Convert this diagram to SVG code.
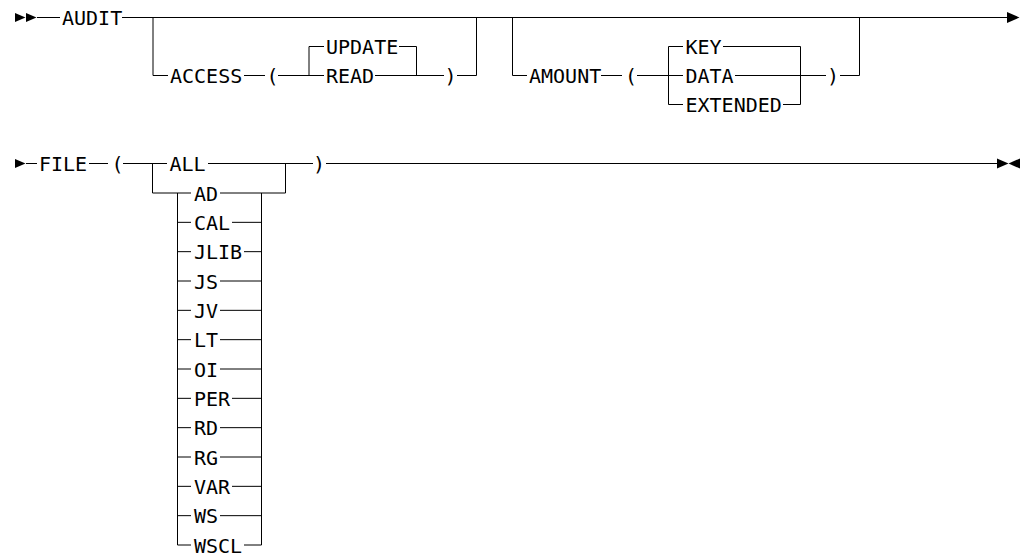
<svg xmlns="http://www.w3.org/2000/svg" width="1024" height="554" viewBox="0 0 1024 554">
<style>
.t{font-family:"DejaVu Sans Mono","Liberation Mono",monospace;font-size:20px;fill:#000}
.c{stroke:#000;stroke-width:1;fill:none}
.h{fill:#000;stroke:none}
</style>
<rect width="1024" height="554" fill="#fff"/>
<g id="connectors">
<polygon class="h" points="15,13 25.5,17.5 15,22"/>
<polygon class="h" points="26,13 36.5,17.5 26,22"/>
<path class="c" d="M37,17.5H60M122,17.5H1007"/>
<polygon class="h" points="1007,12 1019.5,17.5 1007,23"/>
<path class="c" d="M153,17.5V75.5H168M244,75.5H265M278,75.5H324M309,75.5V46.5H324M399,46.5H416.5V75.5M375,75.5H444M457,75.5H476.5V17.5"/>
<path class="c" d="M512.5,17.5V75.5H527M601,75.5H622M637,75.5H683M668.5,46.5V104.5H683M668.5,46.5H683M723,46.5H800.5V104.5H783M735,75.5H826M840,75.5H859.5V17.5"/>
<polygon class="h" points="15,159 25.5,163.5 15,168"/>
<path class="c" d="M26,163.5H37M89,163.5H108M123,163.5H167M208,163.5H313M326,163.5H997"/>
<polygon class="h" points="997,158.5 1008.5,163.5 997,168.5"/>
<polygon class="h" points="1020,158.5 1008.5,163.5 1020,168.5"/>
<path class="c" d="M152.5,163.5V193H191M285.5,163.5V193H220M177.5,193V545M261.5,193V545"/>
<path class="c" d="M177.5,222.33H191M232,222.33H261.5M177.5,251.67H191M244,251.67H261.5M177.5,281H191M220,281H261.5M177.5,310.33H191M220,310.33H261.5M177.5,339.67H191M220,339.67H261.5M177.5,369H191M220,369H261.5M177.5,398.33H191M232,398.33H261.5M177.5,427.67H191M220,427.67H261.5M177.5,457H191M220,457H261.5M177.5,486.33H191M232,486.33H261.5M177.5,515.67H191M220,515.67H261.5M177.5,545H191M244,545H261.5"/>
</g>
<g id="audit"><text class="t" x="62" y="25">AUDIT</text></g>
<g id="access"><text class="t" x="170" y="83">ACCESS</text></g>
<g id="access-open"><text class="t" x="266.5" y="83">(</text></g>
<g id="update"><text class="t" x="326" y="54">UPDATE</text></g>
<g id="read"><text class="t" x="326" y="83">READ</text></g>
<g id="access-close"><text class="t" x="444.5" y="83">)</text></g>
<g id="amount"><text class="t" x="529" y="83">AMOUNT</text></g>
<g id="amount-open"><text class="t" x="625" y="83">(</text></g>
<g id="key"><text class="t" x="685.5" y="54">KEY</text></g>
<g id="data"><text class="t" x="685.5" y="83">DATA</text></g>
<g id="extended"><text class="t" x="685.5" y="112">EXTENDED</text></g>
<g id="amount-close"><text class="t" x="827" y="83">)</text></g>
<g id="file"><text class="t" x="39" y="171">FILE</text></g>
<g id="file-open"><text class="t" x="111.5" y="171">(</text></g>
<g id="all"><text class="t" x="169.5" y="171">ALL</text></g>
<g id="file-close"><text class="t" x="313" y="171">)</text></g>
<g id="ad"><text class="t" x="194" y="200.5">AD</text></g>
<g id="cal"><text class="t" x="194" y="229.83">CAL</text></g>
<g id="jlib"><text class="t" x="194" y="259.17">JLIB</text></g>
<g id="js"><text class="t" x="194" y="288.5">JS</text></g>
<g id="jv"><text class="t" x="194" y="317.83">JV</text></g>
<g id="lt"><text class="t" x="194" y="347.17">LT</text></g>
<g id="oi"><text class="t" x="194" y="376.5">OI</text></g>
<g id="per"><text class="t" x="194" y="405.83">PER</text></g>
<g id="rd"><text class="t" x="194" y="435.17">RD</text></g>
<g id="rg"><text class="t" x="194" y="464.5">RG</text></g>
<g id="var"><text class="t" x="194" y="493.83">VAR</text></g>
<g id="ws"><text class="t" x="194" y="523.17">WS</text></g>
<g id="wscl"><text class="t" x="194" y="552.5">WSCL</text></g>
</svg>
